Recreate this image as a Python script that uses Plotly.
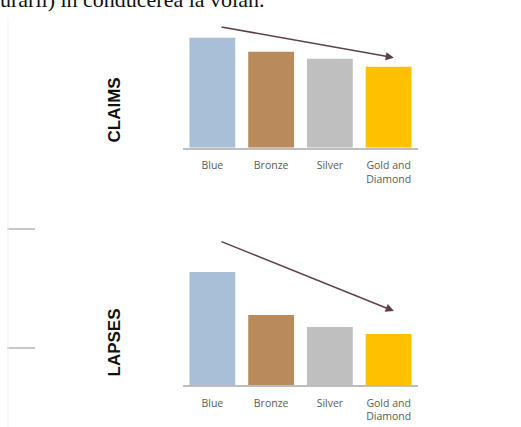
import plotly.graph_objects as go

categories = ["Blue", "Bronze", "Silver", "Gold and<br>Diamond"]
claims = [110, 96, 89, 81]
lapses = [113, 70, 58, 51]
colors = ["#a9bfd7", "#b98a5c", "#bfbfbf", "#ffc000"]

W, H = 521, 427

def py(p):
    return 1 - p / H

fig = go.Figure()
fig.add_trace(go.Bar(x=categories, y=claims, marker=dict(color=colors, line=dict(width=0)),
                     width=0.78, xaxis="x", yaxis="y", showlegend=False))
fig.add_trace(go.Bar(x=categories, y=lapses, marker=dict(color=colors, line=dict(width=0)),
                     width=0.78, xaxis="x2", yaxis="y2", showlegend=False))

xdom = [183 / W, 418 / W]
axis_common = dict(showgrid=False, zeroline=False, showline=True, linecolor="#bdbdbd", linewidth=2,
                   tickfont=dict(family="Open Sans", size=10.5, color="#5a5a5a"), ticks="",
                   ticklabelstandoff=7, range=[-0.5, 3.5], fixedrange=True)
yaxis_common = dict(showgrid=False, zeroline=False, showline=False, showticklabels=False, fixedrange=True)

fig.update_layout(
    width=W, height=H, margin=dict(l=0, r=0, t=0, b=0),
    paper_bgcolor="white", plot_bgcolor="white",
    xaxis=dict(domain=xdom, anchor="y", **axis_common),
    yaxis=dict(domain=[py(147.7), 1.0], range=[0, 147.7], anchor="x", **yaxis_common),
    xaxis2=dict(domain=xdom, anchor="y2", **axis_common),
    yaxis2=dict(domain=[py(385), py(230)], range=[0, 155], anchor="x2", **yaxis_common),
    bargap=0.2,
)

# trend arrows
arrow = dict(showarrow=True, arrowhead=2, arrowsize=1.1, arrowwidth=1.5, arrowcolor="#5e3f4a", text="",
             axref="x", ayref="y")
fig.add_annotation(x=3.09, y=90, ax=0.13, ay=121, xref="x", yref="y", **arrow)
arrow2 = dict(arrow, axref="x2", ayref="y2")
fig.add_annotation(x=3.09, y=74, ax=0.13, ay=144, xref="x2", yref="y2", **arrow2)

# row labels
lab = dict(showarrow=False, textangle=-90, xref="paper", yref="paper", xanchor="center", yanchor="middle",
           font=dict(family="Liberation Sans", size=17, color="#111111"))
fig.add_annotation(text="<b>CLAIMS</b>", x=113.5 / W, y=py(110), **lab)
fig.add_annotation(text="<b>LAPSES</b>", x=113.5 / W, y=py(343), **lab)

# cropped document text at top
fig.add_annotation(text="urarii) în conducerea la volan.", x=-0.004, y=py(14), xref="paper", yref="paper",
                   xanchor="left", yanchor="bottom", showarrow=False,
                   font=dict(family="Liberation Serif", size=22, color="#111111"))

# faint decorative dashes on the left
for yy in (229, 348):
    fig.add_shape(type="line", xref="paper", yref="paper", x0=7 / W, x1=35 / W, y0=py(yy), y1=py(yy),
                  line=dict(color="#c8c8c8", width=2))
fig.add_shape(type="line", xref="paper", yref="paper", x0=8 / W, x1=8 / W, y0=py(18), y1=0,
              line=dict(color="#f2f2f2", width=1))

fig.write_html("out.html")
